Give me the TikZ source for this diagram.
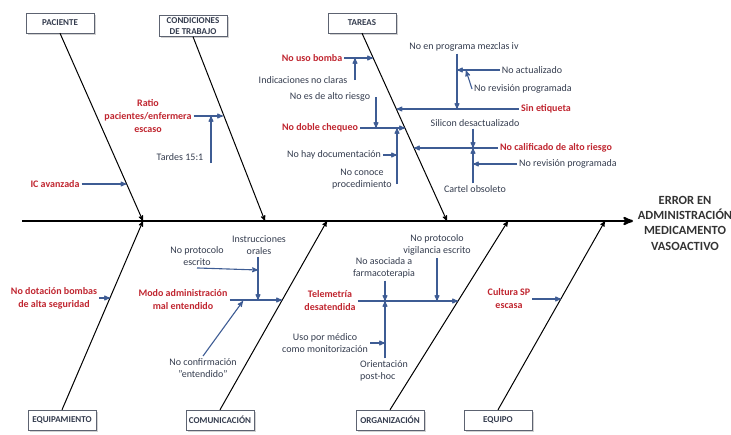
\documentclass[tikz,border=0pt]{standalone}
\usepackage{fontspec}
\setmainfont{Carlito}
\usetikzlibrary{arrows,%
                shadows}

\definecolor{rojo}{RGB}{192,38,48}
\definecolor{azul}{RGB}{62,92,148}
\definecolor{gris}{RGB}{52,60,78}

\begin{document}
\begin{tikzpicture}[x=1pt,y=-1pt]

\tikzstyle{categoria}=[draw=gris!80, fill=white, thin, align=center,
  drop shadow={shadow xshift=1.5pt, shadow yshift=-1.5pt, fill=black!35},
  minimum width=68pt, minimum height=20pt, inner sep=2pt,
  font=\fontsize{9}{11}\selectfont\bfseries, text=gris]
\tikzstyle{causa}=[align=center, inner sep=2pt, text=rojo,
  font=\fontsize{10}{13}\selectfont\bfseries]
\tikzstyle{sub}=[align=center, inner sep=2pt, text=gris,
  font=\fontsize{10}{12.5}\selectfont]
\tikzstyle{efecto}=[align=center, inner sep=0pt, text=black!80,
  font=\fontsize{12.5}{15.3}\selectfont\bfseries]
\tikzstyle{espina}=[line width=2.2pt, -stealth']
\tikzstyle{hueso}=[line width=1pt, -stealth']
\tikzstyle{flecha}=[draw=azul, line width=1.1pt, -stealth']

\useasboundingbox (0,0) rectangle (731,434);

% espina central y efecto
\coordinate (cola) at (22,221);
\coordinate (cabeza) at (633,221);
\draw[espina] (cola) -- (cabeza);
\node[efecto] (error) at (685,223) {ERROR EN\\ADMINISTRACIÓN\\MEDICAMENTO\\VASOACTIVO};

% categorias
\node[categoria] (paciente) at (60,23) {PACIENTE};
\node[categoria] (condic) at (193,26) {CONDICIONES\\DE TRABAJO};
\node[categoria] (tareas) at (362,23) {TAREAS};
\node[categoria] (equipam) at (62,420) {EQUIPAMIENTO};
\node[categoria] (comunic) at (220,420) {COMUNICACIÓN};
\node[categoria] (organiz) at (390,420) {ORGANIZACIÓN};
\node[categoria] (equipo) at (498,420) {EQUIPO};

% huesos
\coordinate (s1) at (143,221);
\coordinate (s2) at (265,221);
\coordinate (s3) at (447,221);
\coordinate (s4) at (327,221);
\coordinate (s5) at (508,221);
\coordinate (s6) at (605,221);
\draw[hueso] (paciente.south) -- (s1);
\draw[hueso] (condic.south) -- (s2);
\draw[hueso] (tareas.south) -- (s3);
\draw[hueso] (equipam.north) -- (s1);
\draw[hueso] (comunic.north) -- (s4);
\draw[hueso] (organiz.north) -- (s5);
\draw[hueso] (equipo.north) -- (s6);

% paciente
\node[causa] (icav) at (55,184) {IC avanzada};
\coordinate (p1) at (126.5,184);
\draw[flecha] (icav.east) -- (p1);

% condiciones de trabajo
\node[causa] (ratio) at (148,116) {Ratio\\pacientes/enfermera\\escaso};
\coordinate (c1) at (223,116);
\draw[flecha] (ratio.east) -- (c1);
\node[sub] (tardes) at (180,157) {Tardes 15:1};
\coordinate (c1a) at (211,116);
\coordinate (c1b) at (211,163);
\draw[flecha] (c1b) -- (c1a);

% tareas, izquierda
\node[causa] (bomba) at (312,58) {No uso bomba};
\coordinate (t1) at (373,58);
\draw[flecha] (bomba.east) -- (t1);
\node[sub] (indic) at (303,80) {Indicaciones no claras};
\coordinate (t1a) at (355,58);
\draw[flecha] (indic.east -| t1a) -- (t1a);
\node[sub] (altor) at (330,97) {No es de alto riesgo};
\coordinate (t2a) at (376,128);
\draw[flecha] (altor.east -| t2a) -- (t2a);
\node[causa] (doble) at (320,128) {No doble chequeo};
\coordinate (t2) at (405,128);
\draw[flecha] (doble.east) -- (t2);
\node[sub] (docum) at (334,155) {No hay documentación};
\coordinate (t2b) at (397,128);
\draw[flecha] (docum.east) -- (docum.east -| t2b);
\node[sub] (conoce) at (362,179) {No conoce\\procedimiento};
\coordinate (t2c) at (397,184);
\draw[flecha] (t2c) -- (t2b);

% tareas, derecha
\node[causa] (etiqueta) at (546,109) {Sin etiqueta};
\coordinate (t3) at (396.5,109);
\draw[flecha] (etiqueta.west) -- (t3);
\node[sub] (mezclas) at (464,47) {No en programa mezclas iv};
\coordinate (t3a) at (457,109);
\draw[flecha] (mezclas.south -| t3a) -- (t3a);
\node[sub] (noact) at (532,70) {No actualizado};
\coordinate (t3b) at (457,70);
\draw[flecha] (noact.west) -- (t3b);
\node[sub] (norev1) at (523,89) {No revisión programada};
\coordinate (t3c) at (466,70.5);
\draw[flecha] (norev1.west) -- (t3c);
\node[sub] (silicon) at (475,123) {Silicon desactualizado};
\node[causa] (calif) at (556,148) {No calificado de alto riesgo};
\coordinate (t4) at (414,148);
\draw[flecha] (calif.west) -- (t4);
\coordinate (t4a) at (473,148);
\draw[flecha] (silicon.south -| t4a) -- (t4a);
\node[sub] (cartel) at (475,189) {Cartel obsoleto};
\draw[flecha] (cartel.north -| t4a) -- (t4a);
\node[sub] (norev2) at (568,164) {No revisión programada};
\coordinate (t4b) at (473,164);
\draw[flecha] (norev2.west) -- (t4b);

% equipamiento
\node[causa] (dotac) at (54,298) {No dotación bombas\\de alta seguridad};
\coordinate (q1) at (110,298);
\draw[flecha] (dotac.east) -- (q1);

% comunicacion
\node[causa] (modo) at (183,300) {Modo administración\\mal entendido};
\coordinate (m1) at (282,300);
\draw[flecha] (modo.east) -- (m1);
\node[sub] (instruc) at (259,245) {Instrucciones\\orales};
\coordinate (m1a) at (258,300);
\draw[flecha] (instruc.south -| m1a) -- (m1a);
\node[sub] (protoc) at (197,256) {No protocolo\\escrito};
\coordinate (m1b) at (258,270);
\draw[flecha] (protoc.south) -- (m1b);
\node[sub] (confirm) at (203,368) {No confirmación\\"entendido"};
\coordinate (m1c) at (243,301);
\draw[flecha] (confirm.north) -- (m1c);

% organizacion
\node[causa] (telem) at (330,301) {Telemetría\\desatendida};
\coordinate (o1) at (458,301);
\draw[flecha] (telem.east) -- (o1);
\node[sub] (asoc) at (384,268) {No asociada a\\farmacoterapia};
\coordinate (o1a) at (385,301);
\draw[flecha] (asoc.south -| o1a) -- (o1a);
\node[sub, align=left] (orient) at (384,371) {Orientación\\post-hoc};
\draw[flecha] (orient.north -| o1a) -- (o1a);
\node[sub] (usomed) at (325,343) {Uso por médico\\como monitorización};
\draw[flecha] (usomed.east) -- (usomed.east -| o1a);
\node[sub] (vigil) at (437,245) {No protocolo\\vigilancia escrito};
\coordinate (o1c) at (437,301);
\draw[flecha] (vigil.south -| o1c) -- (o1c);

% equipo
\node[causa] (cultura) at (509,299) {Cultura SP\\escasa};
\coordinate (e1) at (561,299);
\draw[flecha] (cultura.east) -- (e1);

\end{tikzpicture}
\end{document}
